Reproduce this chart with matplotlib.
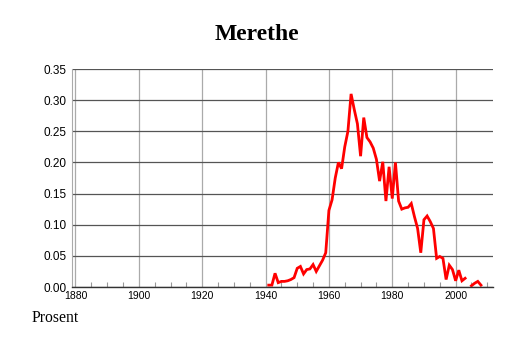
import numpy as np
import matplotlib
matplotlib.use("Agg")
import matplotlib.pyplot as plt
from matplotlib.ticker import MultipleLocator, FormatStrFormatter

years = list(range(1941, 2009))
values = [
    0.003, 0.003, 0.022, 0.007, 0.009, 0.009, 0.010, 0.012, 0.015, 0.030,  # 1941-1950
    0.033, 0.021, 0.028, 0.029, 0.036, 0.025, 0.034, 0.043, 0.055, 0.123,  # 1951-1960
    0.140, 0.175, 0.200, 0.190, 0.225, 0.250, 0.310, 0.285, 0.262, 0.210,  # 1961-1970
    0.272, 0.240, 0.233, 0.223, 0.205, 0.170, 0.201, 0.138, 0.193, 0.142,  # 1971-1980
    0.200, 0.138, 0.125, 0.127, 0.128, 0.134, 0.113, 0.094, 0.055, 0.108,  # 1981-1990
    0.114, 0.105, 0.094, 0.046, 0.049, 0.046, 0.012, 0.035, 0.028, 0.010,  # 1991-2000
    0.027, 0.010, 0.014, np.nan, 0.002, 0.006, 0.009, 0.003,               # 2001-2008
]
title = "Merethe"
ylabel_text = "Prosent"
xticks = [1880, 1900, 1920, 1940, 1960, 1980, 2000]
yticks = [0.00, 0.05, 0.10, 0.15, 0.20, 0.25, 0.30, 0.35]

fig = plt.figure(figsize=(5.14, 3.43), dpi=100)
ax = fig.add_axes([72/514, 1-287/343, (493-72)/514, (287-69)/343])

ax.set_xlim(1878.9, 2011.8)
ax.set_ylim(0, 0.35)
ax.set_xticks(xticks)
ax.set_yticks(yticks)
ax.yaxis.set_major_formatter(FormatStrFormatter('%.2f'))
ax.xaxis.set_minor_locator(MultipleLocator(5))

ax.grid(axis='y', color='#555555', linewidth=0.9)
ax.grid(axis='x', which='major', color='#aaaaaa', linewidth=0.9)
ax.set_axisbelow(True)

ax.plot(years, values, color='#ff0000', linewidth=2.0, solid_joinstyle='miter')

for s in ['top', 'right']:
    ax.spines[s].set_visible(False)
ax.spines['left'].set_color('#aaaaaa')
ax.spines['bottom'].set_color('#333333')
ax.spines['bottom'].set_linewidth(1.0)

ax.tick_params(axis='y', length=0, pad=4, labelsize=8.5, labelfontfamily='Liberation Sans')
ax.tick_params(axis='x', which='major', length=0, pad=3, labelsize=7.5, labelfontfamily='Liberation Sans')
ax.tick_params(axis='x', which='minor', direction='in', length=3.5, color='#999999', width=0.8)

fig.text(257/514, 1-34/343, title, ha='center', va='center', fontsize=17,
         fontweight='bold', family='Liberation Serif')
fig.text(32/514, 1-318/343, ylabel_text, ha='left', va='center', fontsize=11.3,
         family='Liberation Serif')

fig.savefig("out.png", dpi=100)
